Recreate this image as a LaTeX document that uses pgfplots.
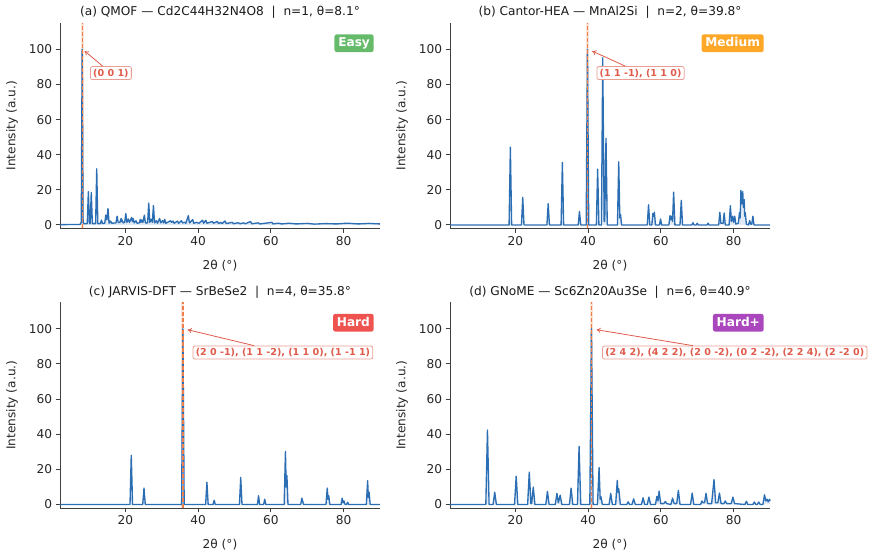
\documentclass[border=0pt]{standalone}
\usepackage{pgfplots}
\pgfplotsset{compat=1.18}
\usepackage{pgfplotstable}
\usepackage{fontspec}
\setmainfont{DejaVu Sans}
\usetikzlibrary{arrows.meta}
\definecolor{specblue}{HTML}{2C6EB4}
\definecolor{vline}{HTML}{EE7E4A}
\definecolor{annred}{HTML}{E05B4B}
\definecolor{cEasy}{HTML}{66BB6A}
\definecolor{cMed}{HTML}{FFA726}
\definecolor{cHard}{HTML}{EF5350}
\definecolor{cHardp}{HTML}{AB47BC}

\pgfplotstableread{
x y
2 0.2
7.5 0.3
7.85 1.5
8.1 100
8.35 1.5
8.6 0.8
9.5 0.8
9.8 19
10.1 0.8
10.3 0.8
10.6 18.5
10.9 0.8
11.8 0.8
12.1 32
12.4 0.8
13.1 0.8
13.4 2.8
13.7 0.8
14.3 1
14.6 5.6
14.9 3
15.2 9.4
15.5 1
15.9 2.2
16.2 1
17.4 1.2
17.7 5
18.0 1.5
18.5 1.5
18.8 3.7
19.0 1.8
19.1 2.8
19.4 1.2
19.8 1.5
20.1 6.5
20.4 1.5
20.8 3.4
21.1 1.5
21.7 4.3
21.9 2
22.1 3.7
22.4 1.2
22.9 2.4
23.2 1
23.8 1.2
24.1 3.2
24.3 1.5
24.5 2.8
24.8 1.5
25.2 5.6
25.5 1.2
26.1 1.2
26.4 12.5
26.7 1.5
27.1 3.2
27.4 1.5
27.7 11.1
28.0 1.2
28.5 2.4
28.8 1
29.4 3.7
29.7 1.2
30.2 2.4
30.5 1.2
30.8 3.2
31.1 1
32.4 2.4
32.7 1.5
33.1 2.2
33.4 1
34.3 2.2
34.6 1
35.4 2.4
35.7 1.2
36.3 1.5
36.6 1
37.3 5.3
37.6 1.2
38.5 3
38.8 1
39.5 1.5
40.2 1
41.2 2.7
41.5 1
42.1 2.7
42.4 1
43.9 2
44.2 1
45.3 2
45.6 0.8
46.3 1.5
46.6 0.8
47.4 2.3
47.7 0.8
49.4 1.5
49.7 0.7
51.0 1.3
51.5 0.7
52.5 1.2
53.0 0.7
54.4 2
54.7 0.7
56.5 1.2
57.0 0.6
58.5 1
60.3 1.5
60.6 0.6
62.0 1
63.0 0.6
65.0 1
67.0 0.6
70.0 0.9
72.0 0.5
75.0 0.8
78.0 0.6
81.0 1
84.0 0.6
87.0 0.9
90.0 0.6
}\tA

\pgfplotstableread{
x y
2 0
18.25 0
18.6 44.3
18.95 0
21.65 0
22.0 15.7
22.35 0
28.65 0
29.0 12.1
29.35 0
32.55 0
32.9 35.6
33.25 0
37.25 0
37.6 7.7
37.95 0
39.45 0
39.8 100
40.15 0
42.25 0
42.6 31.8
42.95 0
43.65 0
44.0 95.2
44.4 2
44.55 2
44.9 49.4
45.25 0
48.05 0
48.4 36
48.7 4
48.9 6
49.2 0
56.25 0
56.6 11.5
56.95 0
57.5 0
57.8 6.5
58.0 5
58.2 7.3
58.5 0
59.6 0
59.9 3.4
60.2 0
62.2 0
62.5 5.3
62.7 3
62.9 5
63.2 2
63.5 18.7
63.85 0
65.25 0
65.6 14
65.95 0
68.5 0
68.8 1.3
69.1 0
69.7 0
70.0 1
70.3 0
72.7 0
73.0 1
73.3 0
75.9 0
76.2 7.2
76.5 1
77.1 1
77.4 6.8
77.7 0
78.75 0
79.1 11
79.4 2
79.7 5
80.0 1.5
80.3 5
80.6 0.5
81.3 1
81.6 7
81.8 4
82.0 19.7
82.25 12
82.5 19
82.7 10
82.9 14.5
83.05 5
83.2 7
83.5 0.5
84.1 0
84.4 2.5
84.7 0.5
85.0 0.5
85.3 5
85.6 0
90 0
}\tB

\pgfplotstableread{
x y
2 0
21.25 0
21.6 28
21.95 0
24.75 0
25.1 9.3
25.45 0
35.45 0
35.8 100
36.15 0
42.05 0
42.4 12.7
42.75 0
44.1 0
44.4 2.4
44.7 0
51.35 0
51.7 15.4
52.05 0
56.3 0
56.6 5
56.9 0
58.0 0
58.3 3
58.6 0
63.65 0
64.0 30.2
64.2 10
64.4 16.5
64.7 0
68.2 0
68.5 3.6
68.8 1.5
69.0 0
75.15 0
75.5 9.4
75.7 3
75.9 5
76.2 0
79.3 0
79.6 3.6
79.85 1
80.1 2
80.4 0
80.8 0
81.1 1.3
81.4 0
86.25 0
86.6 13.6
86.8 4
87.0 7
87.3 0
90 0
}\tC

\pgfplotstableread{
x y
2 0
11.85 0
12.3 42.4
12.75 0
13.85 0
14.3 7
14.75 0
19.75 0
20.2 16.1
20.65 0
23.35 0
23.8 18.4
24.25 0.5
24.45 0.5
24.9 9.9
25.35 0
28.35 0
28.8 7.4
29.25 0
30.95 0
31.4 6.3
31.8 1
32.3 5.3
32.75 0
34.85 0
35.3 9.3
35.75 0
37.05 0
37.5 33.1
37.95 0
40.45 0
40.9 100
41.35 0
42.55 0
43.0 21
43.3 3
43.5 4.5
43.9 0
45.75 0
46.2 6.3
46.65 0
47.55 0
48.0 13.7
48.2 7
48.4 9
48.85 0
50.6 0
51.0 1.5
51.4 0
52.05 0
52.5 3.2
52.95 0
54.65 0
55.1 3.8
55.55 0
56.25 0
56.7 4.2
57.15 0
58.5 0
58.9 4.6
59.2 2
59.5 7.6
59.95 0.5
60.8 0.5
61.2 1.7
61.6 0.5
62.75 0
63.2 3.6
63.65 0.5
64.35 0.5
64.8 8
65.25 0
68.15 0
68.6 6.5
69.05 0
70.9 0
71.3 2
71.6 1
72.0 1
72.4 6.3
72.85 0.5
73.95 0.5
74.4 9.9
74.6 14.2
75.05 1
75.65 1
76.1 6.5
76.55 0.5
77.3 0.5
77.7 2
78.1 0.5
79.35 0.5
79.8 4.2
80.25 0.5
83.1 0
83.5 1.8
83.9 0
85.3 0
85.7 1.4
86.1 0
86.5 0
86.9 1.4
87.3 0
88.05 0
88.5 5.5
88.85 2
89.2 3
89.5 1.5
89.9 3
90 2
}\tD

\pgfplotsset{
  every axis title shift=0pt,
  xrd/.style={
    scale only axis, width=320bp, height=205.5bp, anchor=south west,
    xmin=2, xmax=90, ymin=-2, ymax=115,
    axis x line*=bottom, axis y line*=left,
    axis line style={line width=1bp, draw=black!75},
    tick align=outside, major tick length=4.3bp,
    tick style={line width=1bp, draw=black!75},
    xtick={20,40,60,80}, ytick={0,20,40,60,80,100},
    /pgf/number format/assume math mode=true,
    ticklabel style={font=\fontsize{12.2}{14}\selectfont, text=black!85},
    label style={font=\fontsize{12.2}{14}\selectfont, text=black!85},
    title style={font=\fontsize{12.2}{14}\selectfont, text=black!90, at={(0.5,1)}, anchor=south, inner sep=0pt, yshift=4bp},
    xlabel={2θ (°)}, ylabel={Intensity (a.u.)},
    xlabel style={at={(axis description cs:0.5,-0.18)}, anchor=center},
    ylabel style={at={(axis description cs:-0.15,0.5)}, anchor=center},
    clip=false,
  },
  spec/.style={draw=specblue, line width=1.35bp, line join=round},
  specfill/.style={fill=specblue, fill opacity=0.15, draw=none},
  band/.style={fill=vline, fill opacity=0.22, draw=none},
  vdash/.style={draw=vline, line width=1.3bp, dash pattern=on 4bp off 2bp},
}
\tikzset{
  lbl/.style={draw=annred!60, line width=0.8bp, fill=white, rounded corners=2bp,
    text=annred, font=\bfseries\fontsize{9.6}{11}\selectfont, inner xsep=2.8bp, inner ysep=2.2bp},
  arr/.style={draw=annred, line width=0.8bp, -{To[length=4bp,width=5bp]}},
  badge/.style={rounded corners=2.5bp, text=white, font=\bfseries\fontsize{12.2}{14}\selectfont,
    inner xsep=3.8bp, inner ysep=3.7bp, text height=9bp, text depth=1.5bp, anchor=north east},
}

\begin{document}
\begin{tikzpicture}
\path (0,0) rectangle (875bp,556bp);

% (a)
\begin{axis}[xrd, at={(60bp,327.5bp)},
  title={(a) QMOF — Cd2C44H32N4O8~~|~~n=1, θ=8.1°}]
\addplot[band] coordinates {(7.7,-2) (8.5,-2) (8.5,115) (7.7,115)} -- cycle;
\addplot[specfill] table {\tA} \closedcycle;
\addplot[spec] table {\tA};
\addplot[vdash] coordinates {(8.1,-2) (8.1,115)};
\node[lbl] (la) at (axis cs:16.0,86.5) {(0 0 1)};
\draw[arr] (la) -- (axis cs:8.8,99);
\node[badge, fill=cEasy] at (rel axis cs:0.981,0.946) {Easy};
\end{axis}

% (b)
\begin{axis}[xrd, at={(450bp,327.5bp)},
  title={(b) Cantor-HEA — MnAl2Si~~|~~n=2, θ=39.8°}]
\addplot[band] coordinates {(39.4,-2) (40.2,-2) (40.2,115) (39.4,115)} -- cycle;
\addplot[specfill] table {\tB} \closedcycle;
\addplot[spec] table {\tB};
\addplot[vdash] coordinates {(39.8,-2) (39.8,115)};
\node[lbl] (lb) at (axis cs:54.4,86.5) {(1 1 -1), (1 1 0)};
\draw[arr] (lb) -- (axis cs:41.1,99);
\node[badge, fill=cMed] at (rel axis cs:0.981,0.946) {Medium};
\end{axis}

% (c)
\begin{axis}[xrd, at={(60bp,48bp)},
  title={(c) JARVIS-DFT — SrBeSe2~~|~~n=4, θ=35.8°}]
\addplot[band] coordinates {(35.4,-2) (36.2,-2) (36.2,115) (35.4,115)} -- cycle;
\addplot[specfill] table {\tC} \closedcycle;
\addplot[spec] table {\tC};
\addplot[vdash] coordinates {(35.8,-2) (35.8,115)};
\node[lbl] (lc) at (axis cs:63.3,86.5) {(2 0 -1), (1 1 -2), (1 1 0), (1 -1 1)};
\draw[arr] (lc) -- (axis cs:37.1,99.5);
\node[badge, fill=cHard] at (rel axis cs:0.981,0.946) {Hard};
\end{axis}

% (d)
\begin{axis}[xrd, at={(450bp,48bp)},
  title={(d) GNoME — Sc6Zn20Au3Se~~|~~n=6, θ=40.9°}]
\addplot[band] coordinates {(40.5,-2) (41.3,-2) (41.3,115) (40.5,115)} -- cycle;
\addplot[specfill] table {\tD} \closedcycle;
\addplot[spec] table {\tD};
\addplot[vdash] coordinates {(40.9,-2) (40.9,115)};
\node[lbl] (ld) at (axis cs:80.3,86.5) {(2 4 2), (4 2 2), (2 0 -2), (0 2 -2), (2 2 4), (2 -2 0)};
\draw[arr] (ld) -- (axis cs:42.3,99.5);
\node[badge, fill=cHardp] at (rel axis cs:0.981,0.946) {Hard+};
\end{axis}
\end{tikzpicture}
\end{document}
